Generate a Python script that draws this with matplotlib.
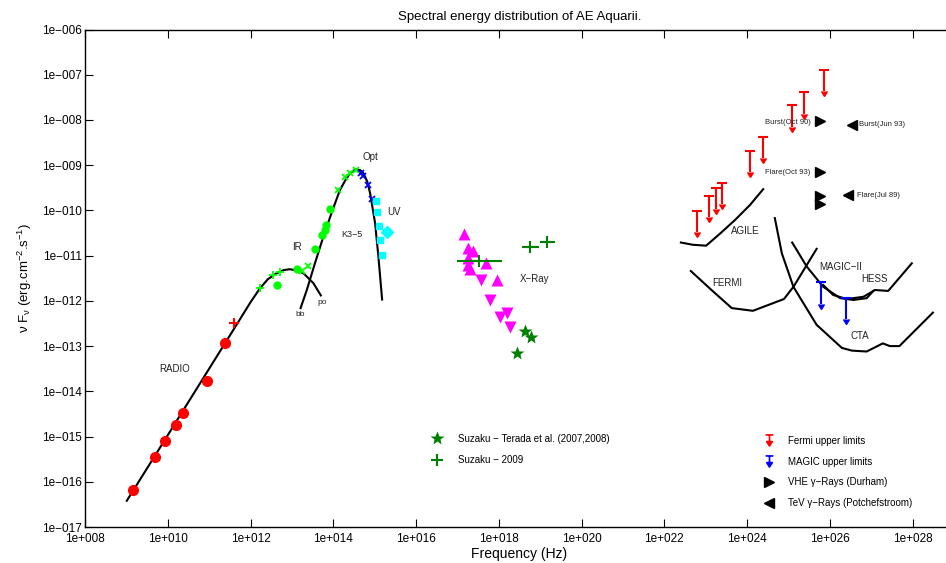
#!/usr/bin/env python3
"""
Spectral energy distribution of AE Aquarii (nu F_nu vs frequency).
Values read off the published figure, kept as log10 values.
"""
import matplotlib
matplotlib.use('Agg')

import matplotlib.pyplot as plt
from matplotlib.path import Path
from matplotlib.lines import Line2D
import numpy as np

# ======================== Data (log10 nu [Hz], log10 nuFnu) ========================
RADIO_NU = [9.17, 9.70, 9.93, 10.19, 10.37, 10.94, 11.38]
RADIO_F = [-16.18, -15.46, -15.10, -14.74, -14.48, -13.77, -12.94]
RADIO_PLUS_NU = [11.60]
RADIO_PLUS_F = [-12.48]

# power-law ("po") and black-body ("bb") model curves
PO_NU = [9.01, 10.0, 11.0, 11.6, 12.0, 12.23, 12.42, 12.63, 12.80, 12.95, 13.12, 13.28, 13.52, 13.70]
PO_F = [-16.42, -14.97, -13.50, -12.62, -12.03, -11.72, -11.52, -11.39, -11.32, -11.30, -11.33, -11.39, -11.61, -11.88]
BB_NU = [13.21, 13.36, 13.56, 13.76, 13.96, 14.16, 14.30, 14.40, 14.54, 14.65, 14.73, 14.82, 14.89, 15.01, 15.09, 15.18]
BB_F = [-12.16, -11.76, -11.16, -10.58, -10.05, -9.55, -9.32, -9.18, -9.09, -9.11, -9.18, -9.36, -9.62, -10.28, -11.02, -11.97]

IR_PLUS_NU = [12.23, 12.54, 12.71]
IR_PLUS_F = [-11.72, -11.43, -11.36]
IR_DOT_NU = [12.63, 13.12, 13.57, 13.72, 13.80, 13.82, 13.92]
IR_DOT_F = [-11.66, -11.30, -10.85, -10.54, -10.43, -10.32, -9.96]
IR_X_NU = [13.24, 13.40, 14.12, 14.28, 14.40, 14.54]
IR_X_F = [-11.34, -11.22, -9.55, -9.27, -9.18, -9.11]
OPT_X_NU = [14.66, 14.73, 14.83, 14.93]
OPT_X_F = [-9.17, -9.25, -9.44, -9.75]
UV_SQ_NU = [15.03, 15.06, 15.10, 15.13, 15.17]
UV_SQ_F = [-9.79, -10.04, -10.34, -10.65, -10.99]
UV_DIA_NU = [15.31]
UV_DIA_F = [-10.48]

XR_UP_NU = [17.16, 17.26, 17.38, 17.26, 17.26, 17.30, 17.69, 17.96]
XR_UP_F = [-10.52, -10.84, -10.89, -11.06, -11.21, -11.30, -11.16, -11.54]
XR_DN_NU = [17.57, 17.79, 18.03, 18.21, 18.27]
XR_DN_F = [-11.54, -11.97, -12.35, -12.27, -12.58]

SUZ09_NU = [17.53, 18.75, 19.16]
SUZ09_F = [-11.11, -10.80, -10.69]
SUZ09_NU_LO = [16.98, 18.55, 19.00]
SUZ09_NU_HI = [18.08, 18.98, 19.36]
TERADA_NU = [18.63, 18.78, 18.45]
TERADA_F = [-12.67, -12.79, -13.16]

FERMI_UL_NU = [22.78, 23.09, 23.25, 23.39, 24.07, 24.38, 25.09, 25.38, 25.86]
FERMI_UL_F = [-10.01, -9.68, -9.50, -9.39, -8.68, -8.38, -7.68, -7.39, -6.90]
MAGIC_UL_NU = [25.79, 26.39]
MAGIC_UL_F = [-11.59, -11.93]
DURHAM_NU = [25.76, 25.76, 25.76, 25.76]
DURHAM_F = [-8.02, -9.16, -9.68, -9.86]
POTCH_NU = [26.53, 26.45]
POTCH_F = [-8.11, -9.67]

# instrument sensitivity curves
AGILE_NU = [22.40, 22.69, 23.01, 23.35, 23.71, 24.07, 24.39]
AGILE_F = [-10.71, -10.76, -10.78, -10.51, -10.21, -9.88, -9.53]
FERMI_NU = [22.64, 23.14, 23.63, 24.14, 24.89, 25.12, 25.68]
FERMI_F = [-11.34, -11.76, -12.16, -12.22, -11.96, -11.69, -10.85]
CTA_NU = [24.67, 24.84, 25.12, 25.68, 26.29, 26.53, 26.89, 27.28, 27.45, 27.68, 28.49]
CTA_F = [-10.17, -10.95, -11.69, -12.53, -13.04, -13.10, -13.12, -12.94, -13.00, -13.00, -12.26]
MAGIC2_NU = [25.09, 25.44, 25.84, 26.25, 26.57, 26.89, 27.05]
MAGIC2_F = [-10.71, -11.24, -11.69, -11.94, -11.98, -11.94, -11.78]
HESS_NU = [25.84, 26.08, 26.41, 26.81, 27.09, 27.41, 27.98]
HESS_F = [-11.65, -11.87, -11.96, -11.91, -11.76, -11.78, -11.17]

# text annotations: (label, log nu, log F, size, ha)
LABELS = [
    ("RADIO", 10.16, -13.51, 7, 'center'),
    ("IR", 13.12, -10.82, 7, 'center'),
    ("po", 13.72, -12.04, 6, 'center'),
    ("bb", 13.21, -12.31, 6, 'center'),
    ("K3\u22125", 14.45, -10.53, 6.5, 'center'),
    ("Opt", 14.89, -8.83, 7, 'center'),
    ("UV", 15.47, -10.03, 7, 'center'),
    ("X\u2212Ray", 18.51, -11.52, 7, 'left'),
    ("AGILE", 23.95, -10.45, 7, 'center'),
    ("FERMI", 23.51, -11.60, 7, 'center'),
    ("MAGIC\u2212II", 26.27, -11.26, 7, 'center'),
    ("HESS", 27.07, -11.51, 7, 'center'),
    ("CTA", 26.73, -12.77, 7, 'center'),
    ("Burst(Oct 90)", 25.54, -8.05, 5.5, 'right'),
    ("Flare(Oct 93)", 25.52, -9.16, 5.5, 'right'),
    ("Burst(Jun 93)", 26.70, -8.11, 5.5, 'left'),
    ("Flare(Jul 89)", 26.65, -9.67, 5.5, 'left'),
]

X_TICK_EXP = list(range(8, 29, 2))
Y_TICK_EXP = list(range(-17, -5))

# ======================== Style ========================
FIG_SIZE = (9.46, 5.63)
DPI = 100
UL_DEX = 0.47          # length of upper-limit arrows in decades
plt.rcParams['font.family'] = ['Liberation Sans', 'DejaVu Sans']
plt.rcParams['mathtext.fontset'] = 'custom'
plt.rcParams['mathtext.rm'] = 'Liberation Sans'
plt.rcParams['mathtext.it'] = 'Liberation Sans'

# small "cap + arrow" glyph for the legend
UL_MARKER = Path(
    [(-0.7, 1.0), (0.7, 1.0), (0, 1.0), (0, -0.2),
     (-0.5, -0.2), (0.5, -0.2), (0, -1.0), (-0.5, -0.2)],
    [Path.MOVETO, Path.LINETO, Path.MOVETO, Path.LINETO,
     Path.MOVETO, Path.LINETO, Path.LINETO, Path.CLOSEPOLY])


def p10(a):
    return np.power(10.0, np.asarray(a, dtype=float))


def upper_limits(ax, nu, f, color):
    """Cap at the limit, stem going down, caret at the bottom."""
    x = p10(nu)
    y = p10(f)
    y_end = y * 10 ** -UL_DEX
    ax.vlines(x, y_end, y, color=color, lw=1.5)
    ax.plot(x, y, '_', color=color, ms=7.5, mew=1.5)
    ax.plot(x, y_end, marker=11, ls='none', color=color, ms=5)
    return Line2D([], [], ls='none', marker=UL_MARKER, color=color,
                  mfc=color, mec=color, ms=8, mew=1.2)


fig = plt.figure(figsize=FIG_SIZE, dpi=DPI)
ax = fig.add_axes([85 / 946, 36 / 563, 869 / 946, 497.5 / 563])
ax.set_xscale('log')
ax.set_yscale('log')

# model curves and sensitivities
for cx, cy in [(PO_NU, PO_F), (BB_NU, BB_F), (AGILE_NU, AGILE_F), (FERMI_NU, FERMI_F),
               (CTA_NU, CTA_F), (MAGIC2_NU, MAGIC2_F), (HESS_NU, HESS_F)]:
    ax.plot(p10(cx), p10(cy), color='black', lw=1.5)

# radio
ax.plot(p10(RADIO_NU), p10(RADIO_F), 'o', color='red', ms=7)
ax.plot(p10(RADIO_PLUS_NU), p10(RADIO_PLUS_F), '+', color='red', ms=7, mew=1.5)

# IR / optical / UV
lime = '#00ff00'
ax.plot(p10(IR_PLUS_NU), p10(IR_PLUS_F), '+', color=lime, ms=6, mew=1.3)
ax.plot(p10(IR_DOT_NU), p10(IR_DOT_F), 'o', color=lime, ms=5)
ax.plot(p10(IR_X_NU), p10(IR_X_F), 'x', color=lime, ms=4.5, mew=1.3)
ax.plot(p10(OPT_X_NU), p10(OPT_X_F), 'x', color='blue', ms=4.5, mew=1.3)
ax.plot(p10(UV_SQ_NU), p10(UV_SQ_F), 's', color='cyan', ms=5)
ax.plot(p10(UV_DIA_NU), p10(UV_DIA_F), 'D', color='cyan', ms=6)

# X-ray
ax.plot(p10(XR_UP_NU), p10(XR_UP_F), '^', color='magenta', ms=8, mec='none')
ax.plot(p10(XR_DN_NU), p10(XR_DN_F), 'v', color='magenta', ms=8, mec='none')
suz_x = p10(SUZ09_NU)
suz_err = [suz_x - p10(SUZ09_NU_LO), p10(SUZ09_NU_HI) - suz_x]
ax.errorbar(suz_x, p10(SUZ09_F), xerr=suz_err, fmt='none', ecolor='green', elinewidth=1.5)
h_suz, = ax.plot(suz_x, p10(SUZ09_F), '+', color='green', ms=9, mew=1.5)
h_ter, = ax.plot(p10(TERADA_NU), p10(TERADA_F), '*', color='green', ms=10, mec='none')

# gamma rays
h_fermi = upper_limits(ax, FERMI_UL_NU, FERMI_UL_F, 'red')
h_magic = upper_limits(ax, MAGIC_UL_NU, MAGIC_UL_F, 'blue')
h_dur, = ax.plot(p10(DURHAM_NU), p10(DURHAM_F), '>', color='black', ms=7)
h_pot, = ax.plot(p10(POTCH_NU), p10(POTCH_F), '<', color='black', ms=7)

for text, lx, ly, size, ha in LABELS:
    ax.text(10 ** lx, 10 ** ly, text, fontsize=size, ha=ha, va='center', color='#222222')

# axes
ax.set_xlim(1e8, 1e29)
ax.set_ylim(1e-17, 1e-6)
ax.set_xticks(p10(X_TICK_EXP))
ax.set_xticklabels(['1e+%03d' % e for e in X_TICK_EXP])
ax.set_yticks(p10(Y_TICK_EXP))
ax.set_yticklabels(['1e\u2212%03d' % -e for e in Y_TICK_EXP])
ax.minorticks_off()
ax.tick_params(direction='in', length=6, width=0.8, top=True, right=True,
               labelsize=8.5)
ax.tick_params(axis='y', pad=2)
ax.tick_params(axis='x', pad=4)
for sp in ax.spines.values():
    sp.set_linewidth(1.0)

ax.set_xlabel('Frequency (Hz)', fontsize=10, labelpad=2)
ax.set_ylabel(r'$\nu$ F$_{\nu}$ (erg.cm$^{-2}$.s$^{-1}$)', fontsize=9.5, labelpad=6)
ax.set_title('Spectral energy distribution of AE Aquarii.', fontsize=9.5, pad=7)

# legends
leg1 = ax.legend([h_ter, h_suz], ['Suzaku \u2212 Terada et al. (2007,2008)', 'Suzaku \u2212 2009'],
                 loc='upper left', bbox_to_anchor=(422 / 946, 1 - 429 / 563),
                 bbox_transform=fig.transFigure, frameon=False, fontsize=7,
                 borderpad=0, labelspacing=1.15, handletextpad=1.2, numpoints=1)
ax.add_artist(leg1)
ax.legend([h_fermi, h_magic, h_dur, h_pot],
          ['Fermi upper limits', 'MAGIC upper limits',
           'VHE \u03b3\u2212Rays (Durham)', 'TeV \u03b3\u2212Rays (Potchefstroom)'],
          loc='upper left', bbox_to_anchor=(754 / 946, 1 - 431 / 563),
          bbox_transform=fig.transFigure, frameon=False, fontsize=7,
          borderpad=0, labelspacing=1.1, handletextpad=1.0, numpoints=1)

fig.savefig('out.png', dpi=DPI)
plt.close(fig)
